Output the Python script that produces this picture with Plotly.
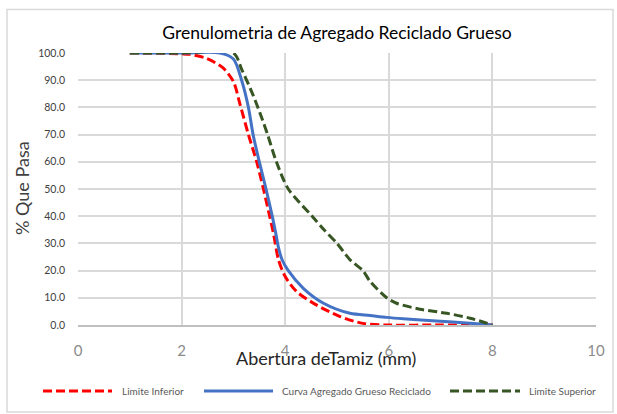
import plotly.graph_objects as go

# Limite Inferior
x_inf = [1, 2.0, 2.16, 2.48, 2.8, 3.0, 3.13, 3.29, 3.45, 3.58, 3.70, 3.78, 3.87, 4.0, 4.22, 4.6, 5.06, 5.5, 5.96, 7.0, 8.0]
y_inf = [100, 99.7, 99.5, 98, 94.5, 89.5, 81, 70, 60, 50, 40, 33, 24, 17.8, 12.3, 7.4, 3.1, 0.6, 0, 0, 0]

# Curva Agregado Grueso Reciclado
x_cur = [1, 2.0, 2.74, 3.0, 3.16, 3.29, 3.38, 3.50, 3.63, 3.75, 3.82, 3.87, 3.94, 4.06, 4.35, 4.74, 5.25, 5.64, 5.96, 6.28, 6.92, 7.57, 8.0]
y_cur = [100, 100, 100, 97.8, 89.9, 80, 70, 60, 50, 40, 33.5, 28.5, 24, 20, 13.5, 8, 4.3, 3.5, 2.8, 2.3, 1.5, 0.6, 0]

# Limite Superior
x_sup = [1, 2.0, 3.0, 3.16, 3.38, 3.55, 3.66, 3.83, 4.06, 4.52, 4.75, 5.0, 5.25, 5.5, 5.64, 5.96, 6.15, 6.6, 7.12, 7.57, 8.0]
y_sup = [100, 100, 100, 94, 84.5, 76, 70, 60, 50, 40, 35, 30, 24, 20, 16, 10, 8, 5.8, 4.3, 2.5, 0]

x_ticks = [0, 2, 4, 6, 8, 10]
y_ticks = [0, 10, 20, 30, 40, 50, 60, 70, 80, 90, 100]

series = [
    ("Limite Inferior", x_inf, y_inf, "#FF0000", "9px,4px"),
    ("Curva Agregado Grueso Reciclado", x_cur, y_cur, "#4472C4", "solid"),
    ("Limite Superior", x_sup, y_sup, "#375623", "9px,4px"),
]

fig = go.Figure()
for name, xs, ys, col, dash in series:
    fig.add_trace(go.Scatter(x=xs, y=ys, mode="lines", name=name,
                             line=dict(color=col, width=3, dash=dash, shape="spline", smoothing=0.8),
                             showlegend=False))

W, H = 617, 414
L, R, T, B = 78, 596, 53, 325
pw, ph = R - L, B - T

def px(xp):
    return (xp - L) / pw

def py(yp):
    return (B - yp) / ph

fig.update_layout(
    width=W, height=H,
    margin=dict(l=L, r=W - R, t=T, b=H - B),
    paper_bgcolor="white", plot_bgcolor="white",
    font=dict(family="Lato, Open Sans, sans-serif", color="#404040"),
    title=dict(text="Grenulometria de Agregado Reciclado Grueso", x=0.5, xref="paper",
               y=1 - 33 / H, yanchor="middle", yref="container",
               font=dict(size=17.5, color="#000000", family="Lato")),
)
fig.update_xaxes(range=[0, 10], tickvals=x_ticks, ticktext=[str(v) for v in x_ticks],
                 showgrid=True, gridcolor="#D9D9D9", gridwidth=2, zeroline=False,
                 showline=True, linecolor="#BFBFBF", linewidth=2, ticks="",
                 tickfont=dict(size=15, color="#8C8C8C"), ticklabelstandoff=11)
fig.update_yaxes(range=[0, 100], tickvals=y_ticks, ticktext=[f"{v:.1f}" for v in y_ticks],
                 showgrid=True, gridcolor="#D9D9D9", gridwidth=2, zeroline=False,
                 showline=False, ticks="",
                 tickfont=dict(size=10.5, color="#404040"), ticklabelstandoff=12)

# outer chart border
fig.add_shape(type="rect", xref="paper", yref="paper",
              x0=px(7), x1=px(613), y0=py(412), y1=py(9.5),
              line=dict(color="#D9D9D9", width=1.5), layer="below")

# axis titles
fig.add_annotation(text="% Que Pasa", xref="paper", yref="paper", x=px(22), y=py(188),
                   textangle=-90, showarrow=False, font=dict(size=18, color="#404040"),
                   xanchor="center", yanchor="middle")
fig.add_annotation(text="Abertura deTamiz (mm)", xref="paper", yref="paper", x=px(326), y=py(358),
                   showarrow=False, font=dict(size=18, color="#262626"),
                   xanchor="center", yanchor="middle")

# custom legend
leg_items = [(43, 112, 120), (204, 273, 280), (450, 520, 527)]
for (x0, x1, xt), (name, xs, ys, col, dash) in zip(leg_items, series):
    fig.add_shape(type="line", xref="paper", yref="paper", x0=px(x0), x1=px(x1),
                  y0=py(391), y1=py(391), line=dict(color=col, width=3, dash=dash))
    fig.add_annotation(text=name, xref="paper", yref="paper", x=px(xt), y=py(391),
                       showarrow=False, xanchor="left", yanchor="middle",
                       font=dict(size=10, color="#595959"))

fig.write_html("out.html", config={"displayModeBar": False},
               post_script="document.body.style.margin='0';")
